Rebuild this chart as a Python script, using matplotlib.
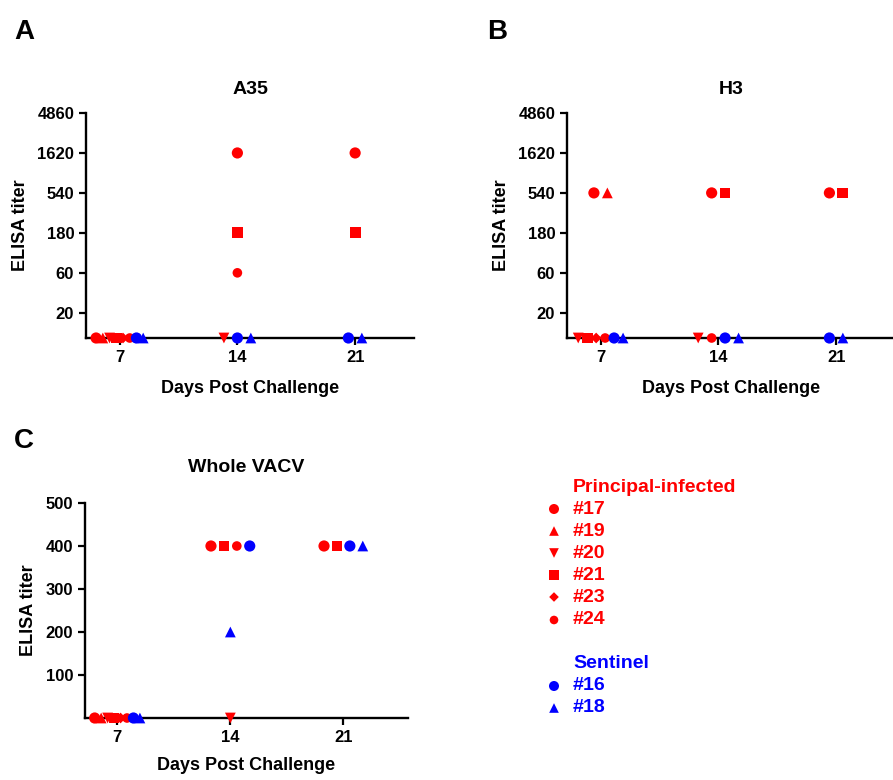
import numpy as np
import matplotlib
matplotlib.use('Agg')
import matplotlib.pyplot as plt

plt.rcParams['font.family'] = ['Liberation Sans', 'DejaVu Sans']
plt.rcParams['font.weight'] = 'bold'

nan = np.nan
RED = '#ff0000'
BLUE = '#0000ff'

# animals, in legend order
animals = ['#17', '#19', '#20', '#21', '#23', '#24', '#16', '#18']
groups = ['Principal-infected'] * 6 + ['Sentinel'] * 2
days = [7, 14, 21]

# A35 titers (values below detection plotted at 10)
a35_d7 = [10, 10, 10, 10, 10, 10, 10, 10]
a35_d14 = [1620, nan, 10, 180, nan, 60, 10, 10]
a35_d21 = [1620, nan, nan, 180, nan, nan, 10, 10]

# H3 titers
h3_d7 = [540, 540, 10, 10, 10, 10, 10, 10]
h3_d14 = [540, nan, 10, 540, nan, 10, 10, 10]
h3_d21 = [540, nan, nan, 540, nan, nan, 10, 10]

# whole VACV titers
vacv_d7 = [0, 0, 0, 0, 0, 0, 0, 0]
vacv_d14 = [400, nan, 0, 400, nan, 400, 400, 200]
vacv_d21 = [400, nan, nan, 400, nan, nan, 400, 400]

log_ticks = [20, 60, 180, 540, 1620, 4860]

# marker styles per animal
markers = ['o', '^', 'v', 's', 'D', 'o', 'o', '^']
sizes = [65, 60, 60, 60, 30, 48, 65, 60]
colors = [RED if g == 'Principal-infected' else BLUE for g in groups]


def scatter_panel(ax, per_day):
    for day, vals in zip(days, per_day):
        vals = np.array(vals, dtype=float)
        # spread points that share the same value, like a column scatter
        for v in np.unique(vals[~np.isnan(vals)]):
            idx = [i for i in range(len(vals)) if vals[i] == v]
            n = len(idx)
            step = min(0.8, 3.2 / n)
            offs = (np.arange(n) - (n - 1) / 2) * step
            for i, o in zip(idx, offs):
                ax.scatter(day + o, vals[i], marker=markers[i], s=sizes[i],
                           color=colors[i], edgecolors='none', clip_on=False, zorder=3)


def style_axes(ax, xpad=11):
    for s in ['top', 'right']:
        ax.spines[s].set_visible(False)
    for s in ['left', 'bottom']:
        ax.spines[s].set_linewidth(1.7)
    ax.tick_params(width=1.6, length=5, labelsize=12)
    ax.set_xticks(days)
    ax.set_xticklabels([str(d) for d in days], fontweight='bold')
    ax.set_xlabel('Days Post Challenge', fontsize=13, fontweight='bold', labelpad=xpad)
    ax.set_ylabel('ELISA titer', fontsize=13, fontweight='bold', labelpad=6)
    for lab in ax.get_yticklabels():
        lab.set_fontweight('bold')


fig = plt.figure(figsize=(8.93, 7.8), dpi=100)
W, H = 893, 780


def px_axes(x0, y0, x1, y1):
    return fig.add_axes([x0 / W, 1 - y1 / H, (x1 - x0) / W, (y1 - y0) / H])


# Panel A
axA = px_axes(86, 113, 414, 338)
scatter_panel(axA, [a35_d7, a35_d14, a35_d21])
axA.set_yscale('log')
axA.set_ylim(10, 4860)
axA.set_yticks(log_ticks)
axA.set_yticklabels([str(t) for t in log_ticks])
axA.minorticks_off()
axA.set_xlim(5, 24.5)
axA.set_title('A35', fontsize=14, fontweight='bold', pad=14)
style_axes(axA)

# Panel B
axB = px_axes(567, 113, 895, 338)
scatter_panel(axB, [h3_d7, h3_d14, h3_d21])
axB.set_yscale('log')
axB.set_ylim(10, 4860)
axB.set_yticks(log_ticks)
axB.set_yticklabels([str(t) for t in log_ticks])
axB.minorticks_off()
axB.set_xlim(5, 24.5)
axB.set_title('H3', fontsize=14, fontweight='bold', pad=14)
style_axes(axB)

# Panel C
axC = px_axes(85, 503, 408, 718)
scatter_panel(axC, [vacv_d7, vacv_d14, vacv_d21])
axC.set_ylim(0, 500)
axC.set_yticks([100, 200, 300, 400, 500])
axC.set_xlim(5, 25)
axC.set_title('Whole VACV', fontsize=14, fontweight='bold', pad=22)
style_axes(axC, xpad=9)

# panel letters
fig.text(14 / W, 1 - 32 / H, 'A', fontsize=20, fontweight='bold', va='center')
fig.text(487 / W, 1 - 32 / H, 'B', fontsize=20, fontweight='bold', va='center')
fig.text(14 / W, 1 - 441 / H, 'C', fontsize=20, fontweight='bold', va='center')

# legend drawn by hand
leg = fig.add_axes([0, 0, 1, 1])
leg.set_xlim(0, W)
leg.set_ylim(H, 0)
leg.axis('off')
leg.text(573, 487, 'Principal-infected', color=RED, fontsize=14, fontweight='bold', va='center')
row_y = [509, 531, 553, 575, 597, 620, 686, 708]
for i, (name, y) in enumerate(zip(animals, row_y)):
    leg.scatter(554, y, marker=markers[i], s=sizes[i] * 0.8, color=colors[i], edgecolors='none')
    leg.text(573, y, name, color=colors[i], fontsize=14, fontweight='bold', va='center')
leg.text(573, 664, 'Sentinel', color=BLUE, fontsize=14, fontweight='bold', va='center')

fig.savefig('out.png', dpi=100)
